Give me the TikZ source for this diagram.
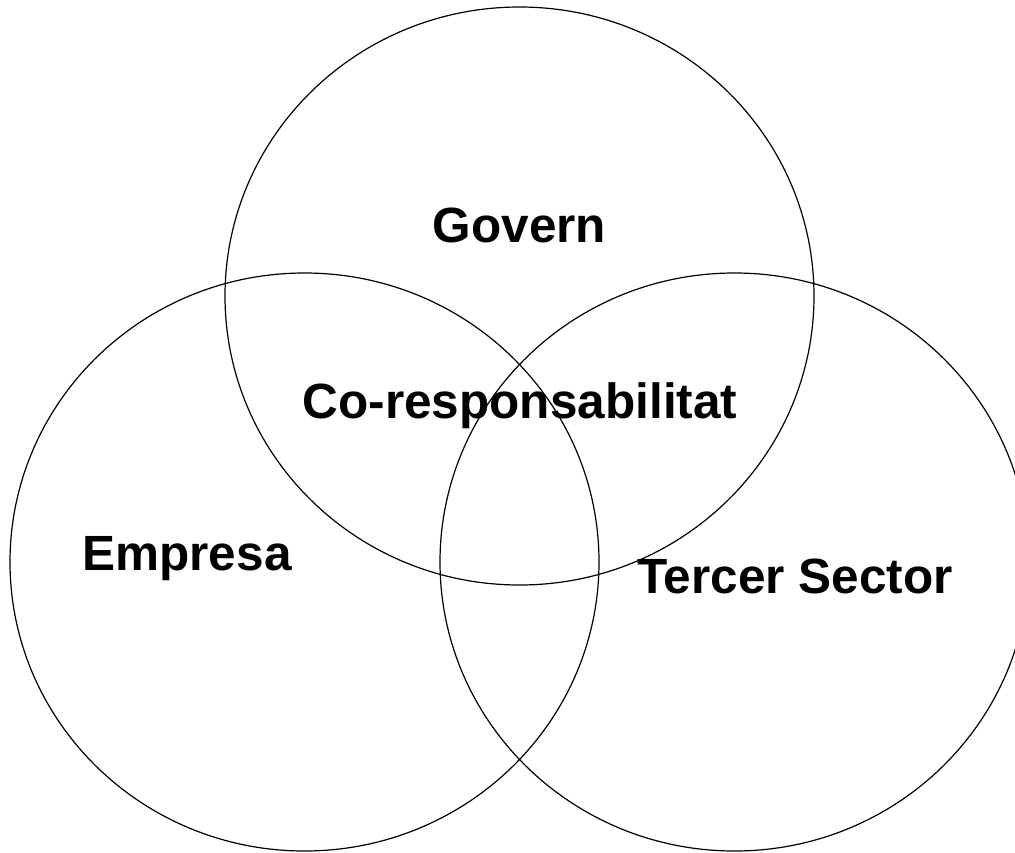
\documentclass[tikz,border=0pt]{standalone}
\usepackage{fontspec}
\setmainfont{Liberation Sans}
\tikzset{
  set/.style={draw=black, line width=1.2pt},
  setlabel/.style={anchor=base, inner sep=0pt, font=\fontsize{49.5}{59}\selectfont\bfseries}
}

\begin{document}
\begin{tikzpicture}[x=1pt,y=-1pt]
        \useasboundingbox (0,0) rectangle (1015,852);
        \clip (0,0) rectangle (1015,852);
        \draw[set] (519.5,296) ellipse [x radius=294.5pt, y radius=289pt];
        \draw[set] (304.5,562) ellipse [x radius=294.5pt, y radius=289pt];
        \draw[set] (734.5,562) ellipse [x radius=294.5pt, y radius=289pt];
        \node[setlabel] (govern) at (519.5,242) {Govern};
        \node[setlabel] (coresp) at (520,418) {Co-responsabilitat};
        \node[setlabel] (empresa) at (187,570) {Empresa};
        \node[setlabel] (tercer) at (795,593) {Tercer Sector};
        \end{tikzpicture}
\end{document}
